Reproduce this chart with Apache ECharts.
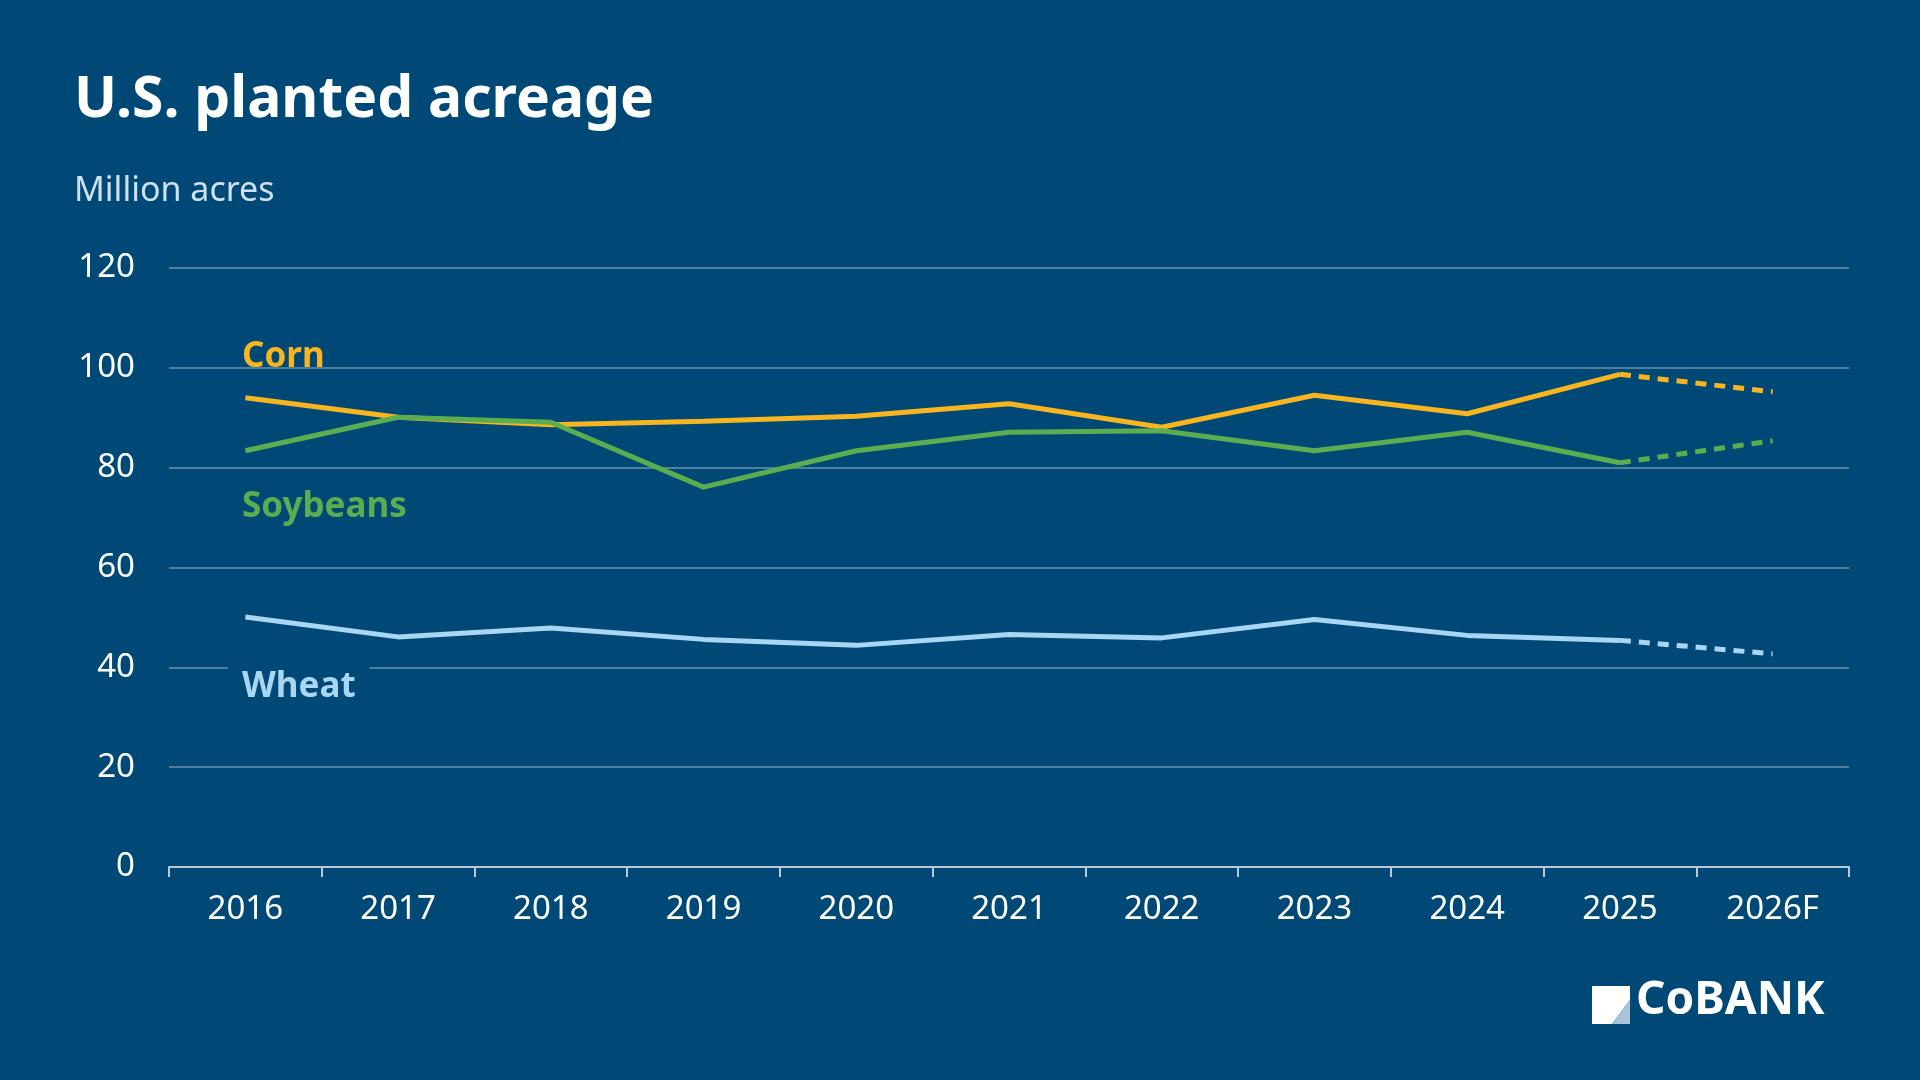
<!DOCTYPE html>
<html><head><meta charset="utf-8">
<script src="https://cdn.jsdelivr.net/npm/echarts@6/dist/echarts.min.js"></script>
<style>html,body{margin:0;padding:0;background:#004977;}#c{width:1920px;height:1080px;}</style>
</head><body><div id="c"></div>
<script>
const years = ['2016','2017','2018','2019','2020','2021','2022','2023','2024','2025','2026F'];
const corn = [94.0,90.1,88.6,89.3,90.3,92.8,88.1,94.5,90.8,98.7,95.2];
const soybeans = [83.4,90.1,89.1,76.1,83.4,87.1,87.4,83.4,87.1,81.0,85.4];
const wheat = [50.1,46.1,47.9,45.6,44.4,46.6,45.9,49.6,46.4,45.4,42.7];
const yTicks = [0,20,40,60,80,100,120];
const F = '"Noto Sans", sans-serif';
const BG = '#004977';
function split(arr){
  const n = arr.length;
  const actual = arr.map((v,i)=> i<n-1 ? v : null);
  const fc = arr.map((v,i)=> i>=n-2 ? v : null);
  return [actual, fc];
}
const colors = {corn:'#F9B51F', soy:'#5BAE50', wheat:'#A9D6F2'};
const series = [];
[['Corn',corn,colors.corn],['Soybeans',soybeans,colors.soy],['Wheat',wheat,colors.wheat]].forEach(([name,d,c])=>{
  const [a,f] = split(d);
  series.push({name, type:'line', data:a, symbol:'none', lineStyle:{color:c,width:5}, z:3});
  series.push({name:name+' F', type:'line', data:f, symbol:'none', lineStyle:{color:c,width:5,type:[11,8]}, z:3});
});
const chart = echarts.init(document.getElementById('c'));
chart.setOption({
  backgroundColor: BG,
  animation:false,
  grid:{left:169,right:71,top:268,bottom:213},
  xAxis:{type:'category',data:years,boundaryGap:true,
    axisLine:{lineStyle:{color:'#B8C8D6',width:2}},
    axisTick:{show:true,length:10,lineStyle:{color:'#B8C8D6',width:2}},
    axisLabel:{color:'#fff',fontFamily:F,fontSize:33,margin:26}},
  yAxis:{type:'value',min:0,max:120,interval:20,
    axisLine:{show:false},axisTick:{show:false},
    splitLine:{lineStyle:{color:'#6D8FAB',width:1.5}},
    axisLabel:{color:'#fff',fontFamily:F,fontSize:33,margin:34,
      formatter:v=> yTicks.includes(v)? String(v):''}},
  series,
  graphic:[
    {type:'text',left:74,top:72,style:{text:'U.S. planted acreage',fill:'#fff',font:'bold 57px '+F}},
    {type:'text',left:74,top:174,style:{text:'Million acres',fill:'#CFE0EE',font:'34px '+F}},
    {type:'text',left:242,top:340,z:10,style:{text:'Corn',fill:colors.corn,font:'bold 35px '+F}},
    {type:'text',left:242,top:490,z:10,style:{text:'Soybeans',fill:colors.soy,font:'bold 35px '+F,backgroundColor:BG,padding:[0,6,0,0]}},
    {type:'text',left:228,top:666,z:10,style:{text:'Wheat',fill:colors.wheat,font:'bold 35px '+F,backgroundColor:BG,padding:[4,14,4,14]}},
    {type:'polygon',z:10,shape:{points:[[1592,986],[1630,986],[1630,1000],[1612,1024],[1592,1024]]},style:{fill:'#fff'}},
    {type:'polygon',z:11,shape:{points:[[1612,1024],[1630,1000],[1630,1024]]},style:{fill:'#A9C4DA'}},
    {type:'text',left:1636,top:978,z:10,style:{text:'CoBANK',fill:'#fff',font:'bold 46px '+F}}
  ]
});
</script></body></html>
